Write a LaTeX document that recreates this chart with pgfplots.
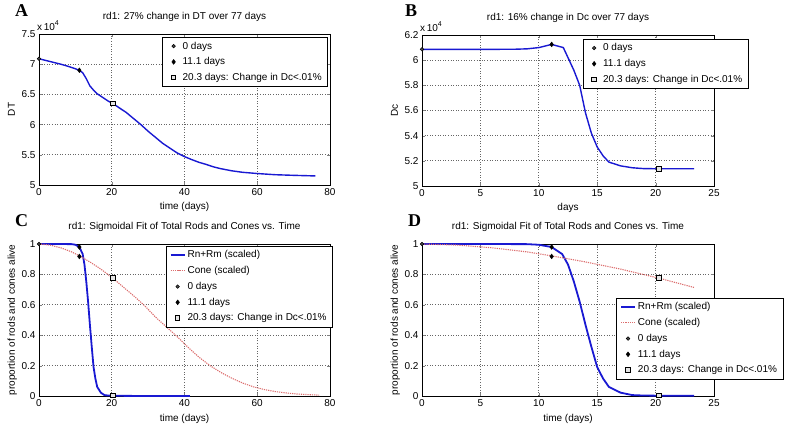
\documentclass[border=0pt]{standalone}
\usepackage{fontspec}
\setmainfont{Liberation Sans}
\newfontfamily\lettfont{Liberation Serif}
\usepackage{pgfplots}
\usepackage{pgfplotstable}
\pgfplotsset{compat=1.18}

\definecolor{mblue}{RGB}{25,25,210}
\definecolor{mcone}{RGB}{220,110,110}

% DT over the whole run (panel A)
\pgfplotstableread{
t DT
0 70900
2 70600
4 70300
6 70000
8 69650
10 69250
11.1 68950
12 68600
13 67600
14 66400
15 65700
16 65100
17 64700
18 64300
19 63900
20.3 63500
22 62800
24 62000
26 61000
28 60000
30 58900
32 57900
34 56900
36 56100
38 55300
40 54700
42 54200
44 53750
46 53400
48 53000
50 52700
53 52350
56 52100
60 51900
65 51700
70 51600
76 51500
}\dtdata

% Dc (panel B)
\pgfplotstableread{
t Dc
0 60860
2 60860
4 60860
6 60860
8 60870
9 60900
10 61000
11.1 61250
12.1 61000
13 59200
13.5 58000
14 55800
14.5 54200
15 53100
15.5 52400
16 51900
17 51600
18 51450
19 51380
20.3 51370
23.3 51370
}\dcdata

% scaled rods, first 23.3 days
\pgfplotstableread{
t R
0 1
5 1
9 0.999
10 0.995
11.1 0.98
12 0.934
12.5 0.865
13 0.753
13.5 0.62
14 0.467
14.5 0.324
15 0.19
15.5 0.115
16 0.06
17 0.022
18 0.006
19 0.003
20.3 0.002
23.3 0.001
}\rodshort

\pgfplotstableread{
t R
0 1
5 1
9 0.999
10 0.995
11.1 0.98
12 0.934
12.5 0.865
13 0.753
13.5 0.62
14 0.467
14.5 0.324
15 0.19
15.5 0.115
16 0.06
17 0.022
18 0.006
19 0.003
20.3 0.002
23.3 0.001
30 0
41.5 0
}\rodlong

% scaled cones
\pgfplotstableread{
t C
0 1
3 0.993
6 0.975
9 0.948
11.1 0.922
14 0.882
17 0.835
20.3 0.775
23.3 0.714
}\coneshort

\pgfplotstableread{
t C
0 1
3 0.993
6 0.975
9 0.948
11.1 0.922
14 0.882
17 0.835
20.3 0.775
23.3 0.714
26 0.66
29 0.595
32 0.52
35 0.455
38 0.39
41 0.32
44 0.255
47 0.2
50 0.155
53 0.117
56 0.085
59 0.06
62 0.042
65 0.029
68 0.02
71 0.013
74 0.009
77 0.006
}\conelong

\pgfplotsset{
  limg/.style={legend image code/.code={%
    \path[draw=none, fill=none] (0pt,-1pt) rectangle (14pt,1pt);
    \draw[mark repeat=2,mark phase=2,##1] plot coordinates {(0pt,0pt) (7pt,0pt) (14pt,0pt)};}},
  mlab/.style={
    scale only axis,
    grid=major,
    grid style={draw=black!60, line width=0.9pt, dash pattern=on 1pt off 1.6pt},
    major tick length=3pt,
    /pgf/number format/assume math mode=true,
    title style={at={(0.5,1)}, anchor=base, yshift=8pt, inner sep=0pt},
    xlabel style={at={(axis description cs:0.5,0)}, anchor=base, yshift=-25pt, inner sep=0pt},
    ylabel style={at={(axis description cs:-0.083,0.5)}, anchor=base, inner sep=0pt},
    legend cell align=left,
    legend style={draw=black, fill=white, line width=0.5pt, inner xsep=4pt, inner ysep=2.5pt, row sep=3pt},
    limg,
  },
  sci4/.style={
    scaled y ticks=base 10:-4,
    ytick scale label code/.code={x\,10\raisebox{5pt}{\fontsize{7}{7}\selectfont 4}},
    every y tick scale label/.style={at={(axis description cs:0,1)}, anchor=base west, inner sep=0pt, xshift=-2pt, yshift=3pt},
  },
  mkcirc/.style={only marks, mark=*, mark size=1.8pt, mark options={fill=black!70, draw=black, line width=0.5pt}, limg},
  mkdiam/.style={only marks, mark=diamond*, mark size=2.4pt, mark options={fill=black, draw=black}, limg},
  mksq/.style={only marks, mark=square*, mark size=2.3pt, mark options={fill=black!10, draw=black, line width=1pt}, limg},
  rodline/.style={mblue, line width=1.8pt, no markers},
  coneline/.style={mcone, dash pattern=on 1.2pt off 1pt, line width=1.1pt, no markers},
}

\begin{document}
\begin{tikzpicture}
\path[use as bounding box] (0pt,0pt) rectangle (800pt,431pt);

\node[anchor=base west, inner sep=0pt, font=\lettfont\bfseries\fontsize{18}{18}\selectfont] at (15pt,414pt) {A};
\node[anchor=base west, inner sep=0pt, font=\lettfont\bfseries\fontsize{18}{18}\selectfont] at (405pt,414pt) {B};
\node[anchor=base west, inner sep=0pt, font=\lettfont\bfseries\fontsize{18}{18}\selectfont] at (15pt,204pt) {C};
\node[anchor=base west, inner sep=0pt, font=\lettfont\bfseries\fontsize{18}{18}\selectfont] at (408pt,204pt) {D};

% A
\begin{axis}[mlab, sci4,
  at={(39pt,246pt)}, anchor=south west, width=291pt, height=151pt,
  xmin=0, xmax=80, ymin=50000, ymax=75000,
  xtick={0,20,...,80}, ytick={50000,55000,...,75000},
  title={rd1: 27\% change in DT over 77 days},
  xlabel={time (days)}, ylabel={DT},
  legend style={at={(0.993,0.98)}, anchor=north east},
]
\addplot[mblue, line width=1.4pt, no markers, forget plot] table[x=t, y=DT] {\dtdata};
\addplot[mkcirc] coordinates {(0,70900)};
\addplot[mkdiam] coordinates {(11.1,69000)};
\addplot[mksq] coordinates {(20.3,63500)};
\legend{0 days, 11.1 days, 20.3 days: Change in Dc<.01\%}
\end{axis}

% B
\begin{axis}[mlab, sci4,
  at={(422pt,245pt)}, anchor=south west, width=292pt, height=151pt,
  xmin=0, xmax=25, ymin=50000, ymax=62000,
  xtick={0,5,...,25}, ytick={50000,52000,...,62000},
  title={rd1: 16\% change in Dc over 77 days},
  xlabel={days}, ylabel={Dc},
  legend style={at={(0.551,0.974)}, anchor=north west},
]
\addplot[mblue, line width=1.4pt, no markers, forget plot] table[x=t, y=Dc] {\dcdata};
\addplot[mkcirc] coordinates {(0,60860)};
\addplot[mkdiam] coordinates {(11.1,61250)};
\addplot[mksq] coordinates {(20.3,51370)};
\legend{0 days, 11.1 days, 20.3 days: Change in Dc<.01\%}
\end{axis}

% C
\begin{axis}[mlab,
  at={(39pt,35pt)}, anchor=south west, width=291pt, height=152pt,
  xmin=0, xmax=80, ymin=0, ymax=1,
  xtick={0,20,...,80}, ytick={0,0.2,...,1},
  title={rd1: Sigmoidal Fit of Total Rods and Cones vs. Time},
  xlabel={time (days)}, ylabel={proportion of rods and cones alive},
  legend style={at={(1.01,0.987)}, anchor=north east},
]
\addplot[rodline] table[x=t, y=R] {\rodlong};
\addplot[coneline] table[x=t, y=C] {\conelong};
\addplot[mkcirc] coordinates {(0,1)};
\addplot[mkdiam] coordinates {(11.1,0.98) (11.1,0.918)};
\addplot[mksq] coordinates {(20.3,0.775) (20.3,0.002)};
\legend{Rn+Rm (scaled), Cone (scaled), 0 days, 11.1 days, 20.3 days: Change in Dc<.01\%}
\end{axis}

% D
\begin{axis}[mlab,
  at={(422pt,35pt)}, anchor=south west, width=292pt, height=152pt,
  xmin=0, xmax=25, ymin=0, ymax=1,
  xtick={0,5,...,25}, ytick={0,0.2,...,1},
  title={rd1: Sigmoidal Fit of Total Rods and Cones vs. Time},
  xlabel={time (days)}, ylabel={proportion of rods and cones alive},
  legend style={at={(0.664,0.645)}, anchor=north west},
]
\addplot[rodline] table[x=t, y=R] {\rodshort};
\addplot[coneline] table[x=t, y=C] {\coneshort};
\addplot[mkcirc] coordinates {(0,1)};
\addplot[mkdiam] coordinates {(11.1,0.98) (11.1,0.918)};
\addplot[mksq] coordinates {(20.3,0.775) (20.3,0.002)};
\legend{Rn+Rm (scaled), Cone (scaled), 0 days, 11.1 days, 20.3 days: Change in Dc<.01\%}
\end{axis}
\end{tikzpicture}
\end{document}
